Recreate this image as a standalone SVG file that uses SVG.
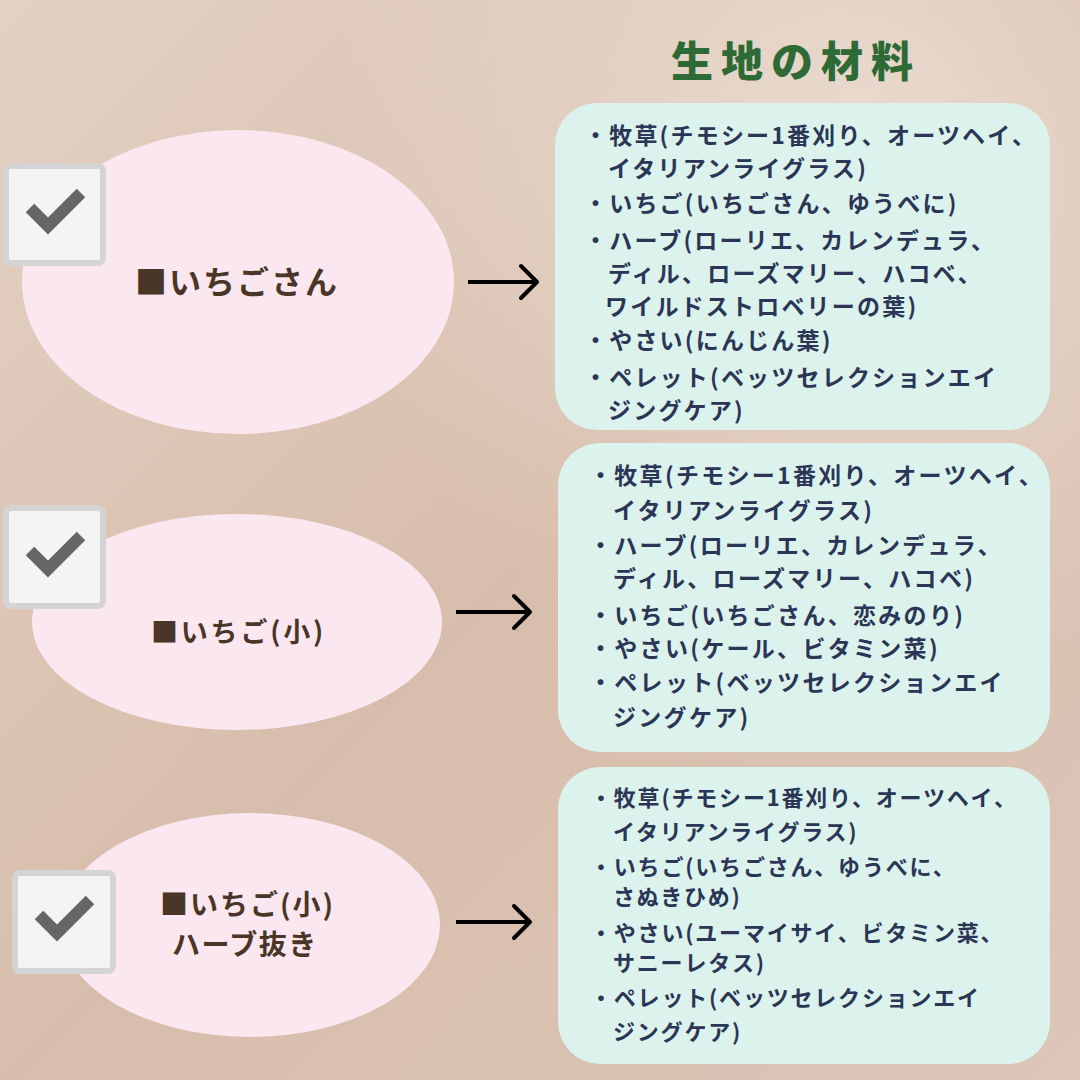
<svg xmlns="http://www.w3.org/2000/svg" width="1080" height="1080" viewBox="0 0 1080 1080">
<defs>
<linearGradient id="bg" x1="0" y1="0" x2="1" y2="1">
<stop offset="0" stop-color="#e4d1c4"/>
<stop offset="0.5" stop-color="#d7bdab"/>
<stop offset="1" stop-color="#dcc6b8"/>
</linearGradient>
<radialGradient id="glow" cx="0.8" cy="0.15" r="0.5">
<stop offset="0" stop-color="#efe2d9" stop-opacity="0.8"/>
<stop offset="1" stop-color="#efe2d9" stop-opacity="0"/>
</radialGradient>
<marker id="arr" markerUnits="userSpaceOnUse" markerWidth="22" markerHeight="38" viewBox="0 0 22 38" refX="19" refY="19" orient="auto">
<path d="M3,3 L19,19 L3,35" fill="none" stroke="#000" stroke-width="4" stroke-linecap="round" stroke-linejoin="round"/>
</marker>
<style>
.oval{fill:#fbe7f0;}
.card{fill:#dcf2ec;}
.chk-box{fill:#f4f4f4;stroke:#d4d4d4;stroke-width:6;}
.chk{fill:none;stroke:#666666;stroke-width:12;}
.lbl{font-family:"Noto Sans CJK JP","Noto Sans",sans-serif;font-weight:700;fill:#4a3627;}
.item{font-family:"Noto Sans CJK JP","Noto Sans",sans-serif;font-weight:700;fill:#2b3555;font-size:23px;letter-spacing:2.2px;}
.item2{letter-spacing:2.3px;}
.item3{font-size:22px;letter-spacing:1.8px;}
.title{font-family:"Noto Sans CJK JP","Noto Sans",sans-serif;font-weight:900;fill:#2e6a35;font-size:42px;letter-spacing:8px;}
.conn{stroke:#000;stroke-width:4;fill:none;marker-end:url(#arr);}
</style>
</defs>
<rect width="1080" height="1080" fill="url(#bg)"/>
<rect width="1080" height="1080" fill="url(#glow)"/>

<g id="title">
<text class="title" x="671" y="77">生地の材料</text>
</g>

<g id="node-ichigosan">
<ellipse class="oval" cx="238" cy="282" rx="216" ry="152"/>
<text class="lbl" x="135" y="294" font-size="32" letter-spacing="2">■いちごさん</text>
</g>
<g id="check-1">
<rect class="chk-box" x="6" y="166" width="97" height="97" rx="5"/>
<polyline class="chk" points="30,208 48,226 81,193"/>
</g>

<g id="node-ichigo-small">
<ellipse class="oval" cx="237" cy="622" rx="205" ry="108"/>
<text class="lbl" x="151" y="642" font-size="27" letter-spacing="2.8">■いちご(小)</text>
</g>
<g id="check-2">
<rect class="chk-box" x="6" y="508" width="97" height="98" rx="5"/>
<polyline class="chk" points="30,551 48,569 81,536"/>
</g>

<g id="node-ichigo-small-noherb">
<ellipse class="oval" cx="250" cy="925" rx="190" ry="112"/>
<text class="lbl" x="160" y="915" font-size="28" letter-spacing="2">■いちご(小)</text>
<text class="lbl" x="172" y="955" font-size="28" letter-spacing="1.5">ハーブ抜き</text>
</g>
<g id="check-3">
<rect class="chk-box" x="15" y="873" width="98" height="98" rx="5"/>
<polyline class="chk" points="39,915 57,933 90,900"/>
</g>

<g id="connectors">
<line class="conn" x1="468" y1="282" x2="537" y2="282"/>
<line class="conn" x1="456" y1="612" x2="530" y2="612"/>
<line class="conn" x1="456" y1="922" x2="530" y2="922"/>
</g>

<g id="materials-1">
<rect class="card" x="555" y="103" width="495" height="327" rx="42"/>
<text class="item" x="584" y="144">・牧草(チモシー1番刈り、オーツヘイ、</text>
<text class="item" x="608" y="177">イタリアンライグラス)</text>
<text class="item" x="584" y="212">・いちご(いちごさん、ゆうべに)</text>
<text class="item" x="584" y="249">・ハーブ(ローリエ、カレンデュラ、</text>
<text class="item" x="608" y="282">ディル、ローズマリー、ハコベ、</text>
<text class="item" x="605" y="315" font-size="21">ワイルドストロベリーの葉)</text>
<text class="item" x="584" y="349">・やさい(にんじん葉)</text>
<text class="item" x="584" y="386">・ペレット(ベッツセレクションエイ</text>
<text class="item" x="608" y="419">ジングケア)</text>
</g>

<g id="materials-2">
<rect class="card" x="558" y="443" width="492" height="309" rx="42"/>
<text class="item item2" x="589" y="484">・牧草(チモシー1番刈り、オーツヘイ、</text>
<text class="item item2" x="613" y="519">イタリアンライグラス)</text>
<text class="item item2" x="589" y="554">・ハーブ(ローリエ、カレンデュラ、</text>
<text class="item item2" x="613" y="587">ディル、ローズマリー、ハコベ)</text>
<text class="item item2" x="589" y="624">・いちご(いちごさん、恋みのり)</text>
<text class="item item2" x="589" y="657">・やさい(ケール、ビタミン菜)</text>
<text class="item item2" x="589" y="691">・ペレット(ベッツセレクションエイ</text>
<text class="item item2" x="613" y="726">ジングケア)</text>
</g>

<g id="materials-3">
<rect class="card" x="558" y="767" width="492" height="297" rx="42"/>
<text class="item item3" x="590" y="806">・牧草(チモシー1番刈り、オーツヘイ、</text>
<text class="item item3" x="613" y="840">イタリアンライグラス)</text>
<text class="item item3" x="590" y="875">・いちご(いちごさん、ゆうべに、</text>
<text class="item item3" x="613" y="905">さぬきひめ)</text>
<text class="item item3" x="590" y="941">・やさい(ユーマイサイ、ビタミン菜、</text>
<text class="item item3" x="613" y="971">サニーレタス)</text>
<text class="item item3" x="590" y="1006">・ペレット(ベッツセレクションエイ</text>
<text class="item item3" x="613" y="1040">ジングケア)</text>
</g>
</svg>
